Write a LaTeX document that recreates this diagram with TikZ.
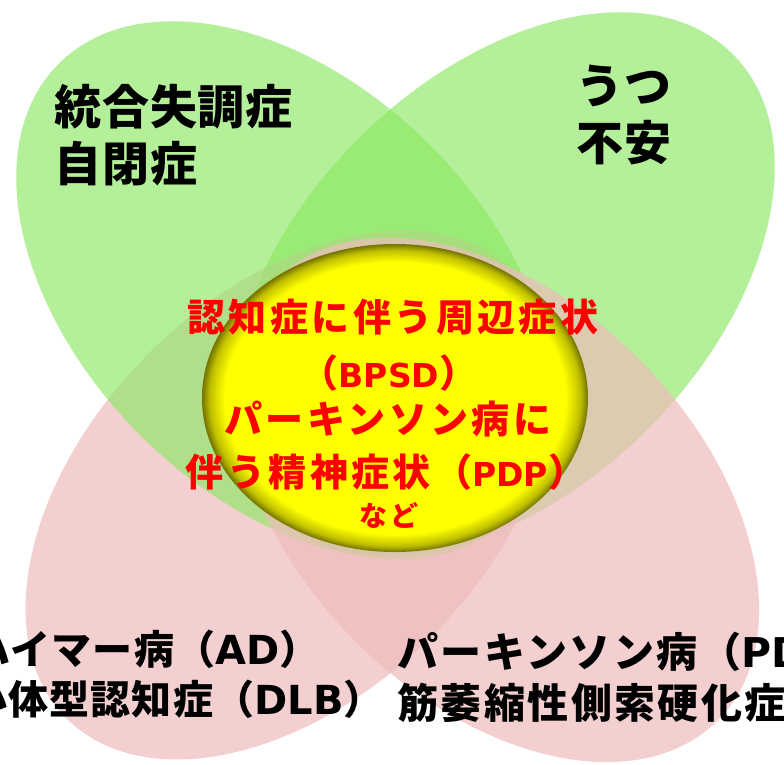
\documentclass[tikz,border=0pt]{standalone}
\usepackage{fontspec}
\newfontfamily\jp{Noto Sans CJK JP}
\newfontfamily\latf{DejaVu Sans}
\definecolor{petalgreen}{RGB}{141,232,100}
\definecolor{petalpink}{RGB}{239,188,188}
\definecolor{txtred}{RGB}{255,0,0}
\pgfdeclareradialshading{yellowball}{\pgfpoint{0bp}{0bp}}{color(0bp)=(yellow); color(22.1bp)=(yellow); color(24bp)=(yellow!75!black); color(25bp)=(yellow!45!black); color(50bp)=(yellow!45!black)}
\newcommand{\latr}[1]{{\latf\bfseries\fontsize{33}{38}\selectfont #1}}
\newcommand{\latb}[1]{{\latf\bfseries #1}}
\begin{document}
\begin{tikzpicture}[x=1pt,y=-1pt,
  greenpetal/.style={fill=petalgreen,fill opacity=0.65},
  pinkpetal/.style={fill=petalpink,fill opacity=0.7},
  redtxt/.style={inner sep=0pt,text=txtred,font=\jp\bfseries\fontsize{38}{44}\selectfont\addfontfeature{LetterSpace=9}},
  redsmall/.style={inner sep=0pt,text=txtred,font=\jp\bfseries\fontsize{28}{32}\selectfont\addfontfeature{LetterSpace=8}},
  blktop/.style={inner sep=0pt,anchor=west,text=black,font=\jp\bfseries\fontsize{47}{54}\selectfont\addfontfeature{LetterSpace=2}},
  blkleft/.style={inner sep=0pt,anchor=west,text=black,font=\jp\bfseries\fontsize{40}{48}\selectfont\addfontfeature{LetterSpace=3}},
  blkright/.style={inner sep=0pt,anchor=west,text=black,font=\jp\bfseries\fontsize{41}{48}\selectfont\addfontfeature{LetterSpace=6}}]
\useasboundingbox (0,0) rectangle (784,764);
\clip (0,0) rectangle (784,764);
\fill[white] (0,0) rectangle (784,764);
% petals
\fill[greenpetal,shift={(503,284)},rotate=45] (0,0) ellipse [x radius=325,y radius=205];
\fill[pinkpetal,shift={(290,495)},rotate=45] (0,0) ellipse [x radius=316,y radius=200];
\fill[greenpetal,shift={(285,290)},rotate=-45] (0,0) ellipse [x radius=320,y radius=205];
\fill[pinkpetal,shift={(497,500)},rotate=-45] (0,0) ellipse [x radius=312,y radius=200];
% centre ellipse
\shade[shading=yellowball] (395,398) ellipse [x radius=193,y radius=154];
% centre text
\node[redtxt] (r1) at (393,317) {認知症に伴う周辺症状};
\node[redtxt] (r2) at (389,373) {（\latr{BPSD}）};
\node[redtxt] (r3) at (388,419) {パーキンソン病に};
\node[redtxt] (r4) at (386,472) {伴う精神症状（\latr{PDP}）};
\node[redsmall] (r5) at (389,515) {など};
% petal texts
\node[blktop] (t1) at (54,107) {統合失調症};
\node[blktop] (t2) at (54,164) {自閉症};
\node[blktop] (t3) at (576,86) {うつ};
\node[blktop] (t4) at (576,143) {不安};
\node[blkleft] (b1) at (-30,649) {ハイマー病（\latb{AD}）};
\node[blkleft] (b2) at (-33,699) {小体型認知症（\latb{DLB}）};
\node[blkright] (b3) at (397,652) {パーキンソン病（\latb{PD}};
\node[blkright] (b4) at (397,703) {筋萎縮性側索硬化症};
\end{tikzpicture}
\end{document}
